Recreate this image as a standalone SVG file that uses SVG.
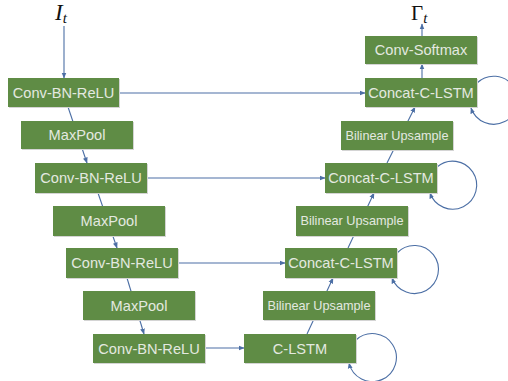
<svg xmlns="http://www.w3.org/2000/svg" width="508" height="381" viewBox="0 0 508 381">
  <style>
    .box rect.fill { fill: #5f8c45; }
    .box rect.shade { fill: #d4d4d4; }
    .box text { font-family: "Liberation Sans", Arial, sans-serif; font-size: 14.6px; fill: #e4e9e0; text-anchor: middle; dominant-baseline: central; }
    .box text.small { font-size: 12.7px; }
    .conn line, .conn path { stroke: #4c6fa5; stroke-width: 1.1; fill: none; }
    .math { font-family: "Liberation Serif", "Times New Roman", serif; fill: #111; }
  </style>
  <defs>
    <marker id="arr" viewBox="0 0 10 10" refX="9" refY="5" markerWidth="6" markerHeight="6" orient="auto" markerUnits="userSpaceOnUse">
      <path d="M0,1 L10,5 L0,9 z" fill="#4c6fa5"/>
    </marker>
  </defs>

  <rect width="508" height="381" fill="#ffffff"/>

  <!-- connectors (drawn first so encoder/decoder links pass behind pooling/upsampling boxes) -->
  <g id="connectors" class="conn">
    <line x1="64" y1="26" x2="64" y2="78" marker-end="url(#arr)"/>
    <line x1="68" y1="107" x2="87" y2="163" marker-end="url(#arr)"/>
    <line x1="98" y1="193" x2="117" y2="248" marker-end="url(#arr)"/>
    <line x1="127" y1="278" x2="144" y2="334" marker-end="url(#arr)"/>
    <line x1="205" y1="348" x2="244" y2="348" marker-end="url(#arr)"/>
    <line x1="119" y1="93" x2="365" y2="93" marker-end="url(#arr)"/>
    <line x1="147" y1="178" x2="325" y2="178" marker-end="url(#arr)"/>
    <line x1="178" y1="263" x2="285" y2="263" marker-end="url(#arr)"/>
    <line x1="307" y1="334" x2="333" y2="278" marker-end="url(#arr)"/>
    <line x1="348" y1="248" x2="374" y2="193" marker-end="url(#arr)"/>
    <line x1="387" y1="163" x2="415" y2="107" marker-end="url(#arr)"/>
    <line x1="422" y1="78" x2="422" y2="64" marker-end="url(#arr)"/>
    <line x1="422" y1="36" x2="422" y2="24" marker-end="url(#arr)"/>
    <!-- recurrent self-loops -->
    <path d="M356,340 A24,24 0 1 1 349,363" marker-end="url(#arr)"/>
    <path d="M397,253 A24,24 0 1 1 392,278" marker-end="url(#arr)"/>
    <path d="M437,167 A24,24 0 1 1 430,193" marker-end="url(#arr)"/>
    <path d="M477,83 A24,24 0 1 1 471,108" marker-end="url(#arr)"/>
  </g>

  <!-- encoder -->
  <g id="conv1" class="box"><rect class="shade" x="9" y="79" width="111" height="29"/><rect class="fill" x="8" y="78" width="111" height="29"/><text x="63.5" y="92.5">Conv-BN-ReLU</text></g>
  <g id="pool1" class="box"><rect class="shade" x="22" y="122" width="112" height="28"/><rect class="fill" x="21" y="121" width="112" height="28"/><text x="77" y="135">MaxPool</text></g>
  <g id="conv2" class="box"><rect class="shade" x="36" y="164" width="112" height="30"/><rect class="fill" x="35" y="163" width="112" height="30"/><text x="91" y="178">Conv-BN-ReLU</text></g>
  <g id="pool2" class="box"><rect class="shade" x="54" y="207" width="112" height="30"/><rect class="fill" x="53" y="206" width="112" height="30"/><text x="109" y="221">MaxPool</text></g>
  <g id="conv3" class="box"><rect class="shade" x="67" y="249" width="112" height="30"/><rect class="fill" x="66" y="248" width="112" height="30"/><text x="122" y="263">Conv-BN-ReLU</text></g>
  <g id="pool3" class="box"><rect class="shade" x="84" y="292" width="112" height="29"/><rect class="fill" x="83" y="291" width="112" height="29"/><text x="139" y="305.5">MaxPool</text></g>
  <g id="conv4" class="box"><rect class="shade" x="94" y="335" width="112" height="29"/><rect class="fill" x="93" y="334" width="112" height="29"/><text x="149" y="348.5">Conv-BN-ReLU</text></g>

  <!-- decoder -->
  <g id="clstm" class="box"><rect class="shade" x="245" y="335" width="112" height="29"/><rect class="fill" x="244" y="334" width="112" height="29"/><text x="300" y="348.5">C-LSTM</text></g>
  <g id="up3" class="box"><rect class="shade" x="264" y="292" width="112" height="29"/><rect class="fill" x="263" y="291" width="112" height="29"/><text class="small" x="319" y="305.5">Bilinear Upsample</text></g>
  <g id="concat3" class="box"><rect class="shade" x="286" y="249" width="112" height="30"/><rect class="fill" x="285" y="248" width="112" height="30"/><text x="341" y="263">Concat-C-LSTM</text></g>
  <g id="up2" class="box"><rect class="shade" x="297" y="207" width="112" height="30"/><rect class="fill" x="296" y="206" width="112" height="30"/><text class="small" x="352" y="221">Bilinear Upsample</text></g>
  <g id="concat2" class="box"><rect class="shade" x="326" y="164" width="112" height="30"/><rect class="fill" x="325" y="163" width="112" height="30"/><text x="381" y="178">Concat-C-LSTM</text></g>
  <g id="up1" class="box"><rect class="shade" x="342" y="122" width="112" height="29"/><rect class="fill" x="341" y="121" width="112" height="29"/><text class="small" x="397" y="135.5">Bilinear Upsample</text></g>
  <g id="concat1" class="box"><rect class="shade" x="366" y="79" width="112" height="29"/><rect class="fill" x="365" y="78" width="112" height="29"/><text x="421" y="92.5">Concat-C-LSTM</text></g>
  <g id="softmax" class="box"><rect class="shade" x="366" y="37" width="112" height="28"/><rect class="fill" x="365" y="36" width="112" height="28"/><text x="421" y="50">Conv-Softmax</text></g>

  <!-- input / output symbols -->
  <g id="input">
    <text class="math" x="55" y="20" font-size="23" font-style="italic">I<tspan font-size="15" dy="3">t</tspan></text>
  </g>
  <g id="output">
    <text class="math" x="411" y="20" font-size="21">Γ<tspan font-size="15" dy="3" font-style="italic">t</tspan></text>
  </g>
</svg>
